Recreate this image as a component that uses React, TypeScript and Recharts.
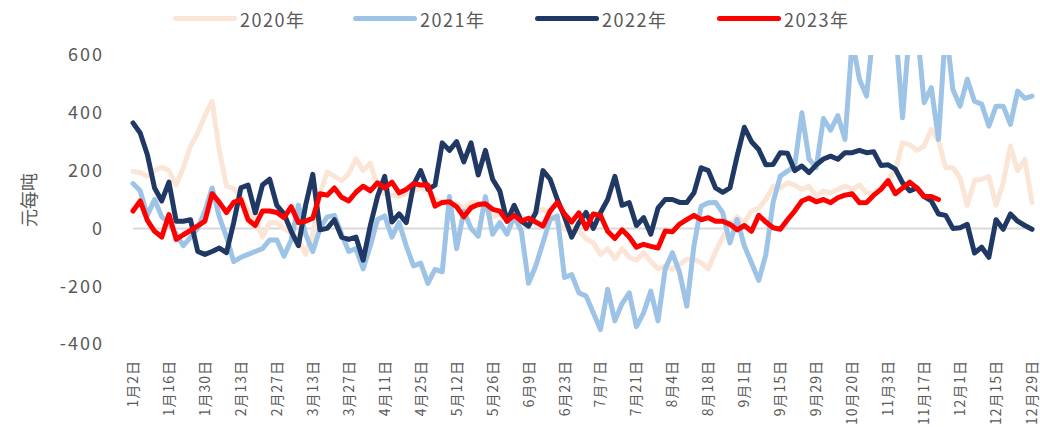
import { LineChart, Line, XAxis, YAxis, CartesianGrid } from 'recharts'

// trading-day index every 10 days
const dateLabels = [
  '1月2日', '1月16日', '1月30日', '2月13日', '2月27日', '3月13日', '3月27日', '4月11日', '4月25日',
  '5月12日', '5月26日', '6月9日', '6月23日', '7月7日', '7月21日', '8月4日', '8月18日', '9月1日',
  '9月15日', '9月29日', '10月20日', '11月3日', '11月17日', '12月1日', '12月15日', '12月29日',
]
const yTicks = [-400, -200, 0, 200, 400, 600]

// one value every 2 trading days (index 0..250)
const y2020 = [
  197, 193, 180, 200, 212, 200, 150, 210, 285, 330, 390, 440, 270, 146, 138, 110, 60, 30, -30, 20,
  20, 0, -15, -40, -90, -20, 120, 195, 180, 165, 190, 240, 200, 225, 146, 120, 115, 110, 120, 130,
  140, 130, 100, 90, 80, 85, 70, 90, 89, 70, 40, 50, 30, 60, 40, 30, 60, 66, 50, 20,
  -3, 0, -10, -35, -50, -90, -70, -105, -70, -100, -110, -84, -115, -140, -130, -142, -125, -107, -107, -119,
  -140, -80, -30, 10, 40, 20, 60, 70, 100, 146, 140, 158, 150, 135, 146, 112, 129, 123, 135, 146,
  135, 150, 123, 120, 140, 170, 200, 296, 290, 270, 285, 343, 302, 210, 210, 175, 80, 165, 170, 180,
  80, 158, 285, 200, 239, 89,
]
const y2021 = [
  155, 130, 45, 100, 40, 20, -20, -60, -30, 0, 60, 140, 40, -30, -115, -100, -90, -80, -70, -40,
  -40, -96, -40, 80, -20, -80, 0, 40, 45, -20, -80, -70, -140, -60, 31, 43, -30, 20, -61, -130,
  -120, -190, -142, -150, 110, -70, 60, 0, -27, 110, -20, 20, -20, 43, -10, -190, -130, -50, 31, 43,
  -170, -160, -223, -234, -292, -350, -211, -320, -260, -223, -340, -292, -217, -320, -140, -84, -153, -269, -60, 77,
  89, 90, 54, -50, 31, -60, -119, -180, -90, 90, 181, 198, 216, 400, 240, 210, 380, 340, 390, 308,
  650, 516, 458, 700, 700, 700, 700, 383, 700, 700, 435, 487, 308, 700, 481, 423, 516, 440, 430, 354,
  423, 423, 360, 475, 450, 458,
]
const y2022 = [
  365, 330, 255, 140, 95, 160, 25, 25, 30, -80, -90, -80, -68, -84, 20, 140, 150, 54, 150, 170,
  80, 50, -10, -60, 80, 187, -5, 0, 30, -30, -38, -30, -110, 10, 110, 180, 22, 50, 20, 150,
  200, 135, 150, 296, 270, 300, 230, 296, 185, 270, 170, 130, 25, 80, 25, 8, 54, 200, 170, 100,
  40, -30, 20, 55, 0, 54, 100, 180, 80, 89, 10, 37, -20, 70, 100, 100, 90, 90, 123, 210,
  200, 140, 125, 140, 250, 350, 300, 273, 220, 221, 262, 260, 200, 216, 193, 220, 240, 250, 239, 262,
  262, 270, 262, 265, 218, 220, 205, 158, 130, 140, 110, 95, 50, 45, 0, 2, 14, -85, -65, -100,
  30, -3, 50, 25, 10, -3,
]
const y2023 = [
  60, 95, 28, -10, -30, 48, -38, -22, -7, 9, 25, 120, 90, 55, 90, 100, 30, 10, 60, 60,
  55, 37, 75, 20, 25, 35, 120, 115, 140, 108, 95, 125, 146, 130, 158, 140, 160, 123, 135, 155,
  150, 150, 77, 90, 92, 75, 40, 72, 83, 85, 66, 60, 25, 45, 25, 35, 22, 8, 60, 90,
  50, 22, 54, 0, 50, 45, -10, -35, -5, -30, -65, -55, -62, -68, -9, -12, 15, 30, 45, 30,
  37, 25, 25, 14, -5, 10, -10, 45, 22, 2, -3, 30, 60, 95, 105, 92, 100, 89, 106, 115,
  120, 89, 90, 115, 135, 165, 120, 140, 160, 140, 110, 110, 100, null, null, null, null, null, null, null,
  null, null, null, null, null, null,
]

const series = [
  { key: 'y2020', name: '2020年', color: '#fbe5d6' },
  { key: 'y2021', name: '2021年', color: '#9dc3e6' },
  { key: 'y2022', name: '2022年', color: '#203864' },
  { key: 'y2023', name: '2023年', color: '#ff0000' },
]

const data = y2020.map((_, k) => ({
  i: k * 2,
  y2020: y2020[k],
  y2021: y2021[k],
  y2022: y2022[k],
  y2023: y2023[k],
}))

const font = '"Noto Sans CJK SC", "DejaVu Sans", sans-serif'
const textColor = '#595959'

function DateTick({ x, y, payload }: any) {
  return (
    <text
      x={x - 1}
      y={y}
      transform={`rotate(-90, ${x - 1}, ${y})`}
      textAnchor="end"
      dominantBaseline="central"
      fill={textColor}
      fontSize={14}
      fontFamily={font}
      letterSpacing={1}
    >
      {dateLabels[Math.round(payload.value / 10)]}
    </text>
  )
}

function LegendRow() {
  const starts = [173, 353, 535, 717]
  return (
    <>
      {series.map((s, k) => (
        <div key={s.key}>
          <div
            style={{
              position: 'absolute',
              left: starts[k],
              top: 16,
              width: 64,
              height: 5,
              borderRadius: 3,
              background: s.color,
            }}
          />
          <div
            style={{
              position: 'absolute',
              left: starts[k] + 67,
              top: 6,
              fontSize: 18,
              lineHeight: '26px',
              color: textColor,
              fontFamily: font,
              letterSpacing: 1.5,
            }}
          >
            {s.name}
          </div>
        </div>
      ))}
    </>
  )
}

export default function App() {
  return (
    <div style={{ position: 'absolute', left: 0, top: 0, width: 1040, height: 427, background: '#fff' }}>
      <LegendRow />
      <div
        style={{
          position: 'absolute',
          left: 28,
          top: 200,
          transform: 'translate(-50%, -50%) rotate(-90deg)',
          fontSize: 18,
          color: textColor,
          fontFamily: font,
          whiteSpace: 'nowrap',
        }}
      >
        元每吨
      </div>
      <div style={{ position: 'absolute', left: 0, top: 0 }}>
        <LineChart width={1040} height={427} data={data} margin={{ top: 55, right: 8, bottom: 0, left: 0 }}>
          <CartesianGrid vertical={false} horizontalValues={[0]} stroke="#d9d9d9" strokeWidth={2} />
          <XAxis
            dataKey="i"
            type="number"
            domain={[0, 250]}
            ticks={dateLabels.map((_, k) => k * 10)}
            interval={0}
            tick={<DateTick />}
            tickLine={false}
            axisLine={false}
            tickSize={0}
            tickMargin={16}
            height={83}
          />
          <YAxis
            type="number"
            domain={[-400, 600]}
            ticks={yTicks}
            allowDataOverflow
            width={133}
            tickLine={false}
            axisLine={false}
            tickSize={0}
            tickMargin={29}
            tick={{ fontSize: 18, fill: textColor, fontFamily: font, letterSpacing: 2 }}
          />
          {series.map((s) => (
            <Line
              key={s.key}
              dataKey={s.key}
              name={s.name}
              stroke={s.color}
              strokeWidth={5}
              strokeLinejoin="round"
              strokeLinecap="round"
              dot={false}
              activeDot={false}
              isAnimationActive={false}
              connectNulls={false}
            />
          ))}
        </LineChart>
      </div>
    </div>
  )
}
